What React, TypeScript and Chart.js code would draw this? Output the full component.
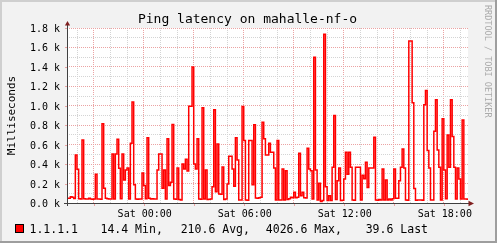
import { useEffect, useRef } from 'react';
import { Chart, registerables } from 'chart.js';

Chart.register(...registerables);

const TITLE = 'Ping latency on mahalle-nf-o';
const Y_TITLE = 'Milliseconds';
const WATERMARK = 'RRDTOOL / TOBI OETIKER';
const SERIES_LABEL = '1.1.1.1';

// time axis in hours relative to Sat 00:00
const START_HOUR = -4.6;
const STEP_HOURS = 0.1;
const END_HOUR = 19.45;

// ping latency samples (ms), one per step
const latency = [
  50, 48, 65, 58, 46, 495, 347, 45, 42, 649,
  45, 42, 40, 48, 42, 38, 42, 295, 40, 42,
  38, 814, 151, 48, 45, 42, 40, 505, 42, 505,
  656, 357, 45, 505, 237, 340, 360, 40, 615, 1040,
  189, 40, 38, 40, 42, 309, 179, 45, 670, 48,
  42, 45, 40, 42, 340, 505, 505, 151, 340, 40,
  660, 179, 213, 807, 40, 38, 360, 35, 32, 400,
  350, 450, 330, 996, 996, 1398, 402, 350, 660, 40,
  38, 979, 40, 340, 35, 38, 40, 168, 958, 117,
  608, 93, 90, 370, 35, 40, 196, 481, 481, 350,
  172, 670, 443, 30, 30, 993, 643, 30, 28, 643,
  643, 189, 804, 52, 50, 55, 58, 831, 660, 495,
  495, 615, 522, 522, 360, 30, 643, 30, 32, 350,
  30, 333, 35, 45, 58, 55, 110, 55, 58, 512,
  75, 110, 55, 52, 563, 350, 333, 40, 1500, 340,
  30, 203, 14.4, 25, 1735, 168, 25, 75, 25, 367,
  900, 35, 230, 360, 25, 28, 247, 522, 295, 522,
  367, 30, 28, 367, 367, 367, 30, 285, 250, 419,
  160, 360, 360, 360, 677, 30, 28, 35, 30, 350,
  30, 237, 32, 40, 30, 45, 350, 50, 48, 230,
  367, 556, 360, 30, 28, 1666, 1666, 1030, 150, 28,
  30, 32, 30, 28, 1010, 1158, 539, 360, 30, 30,
  739, 1061, 546, 367, 30, 866, 340, 45, 700, 367,
  1061, 683, 367, 40, 360, 247, 40, 855, 40, 42,
  39.6,
];

const Y_MIN = 0;
const Y_MAX = 1800;
const yGridValues = [0, 100, 200, 300, 400, 500, 600, 700, 800, 900, 1000, 1100, 1200, 1300, 1400, 1500, 1600, 1700, 1800];
const yLabelValues = [0, 200, 400, 600, 800, 1000, 1200, 1400, 1600, 1800];
const yLabels = ['0.0 k', '0.2 k', '0.4 k', '0.6 k', '0.8 k', '1.0 k', '1.2 k', '1.4 k', '1.6 k', '1.8 k'];

const xGridHours = [-4, -3, -2, -1, 0, 1, 2, 3, 4, 5, 6, 7, 8, 9, 10, 11, 12, 13, 14, 15, 16, 17, 18, 19];
const xMajorHours = [-3, 0, 3, 6, 9, 12, 15, 18];
const xLabelHours = [0, 6, 12, 18];
const xLabels = ['Sat 00:00', 'Sat 06:00', 'Sat 12:00', 'Sat 18:00'];

const statNames = ['Min,', 'Avg,', 'Max,', 'Last'];
const statValues = ['14.4', '210.6', '4026.6', '39.6'];

const FONT = '"DejaVu Sans Mono", monospace';
const MINOR_GRID = '#D4D4D4';
const MAJOR_GRID = '#EBA3A3';

const rrdPlugin = {
  id: 'rrdLook',
  beforeDraw(chart: any) {
    const { ctx, width, height, chartArea: a } = chart;
    ctx.save();
    ctx.fillStyle = '#F2F2F2';
    ctx.fillRect(0, 0, width, height);
    ctx.fillStyle = '#CFCFCF';
    ctx.fillRect(0, 0, width, 2);
    ctx.fillRect(0, 0, 2, height);
    ctx.fillStyle = '#9E9E9E';
    ctx.fillRect(0, height - 2, width, 2);
    ctx.fillRect(width - 2, 0, 2, height);
    ctx.fillStyle = '#FFFFFF';
    ctx.fillRect(a.left, a.top, a.right - a.left, a.bottom - a.top);
    ctx.restore();
  },
  afterDatasetsDraw(chart: any) {
    const { ctx, chartArea: a } = chart;
    const xs = chart.scales.x;
    const ys = chart.scales.y;
    ctx.save();
    // small major ticks outside the axes
    ctx.strokeStyle = MAJOR_GRID;
    ctx.lineWidth = 1;
    ctx.beginPath();
    yLabelValues.forEach((v) => {
      const y = Math.round(ys.getPixelForValue(v)) + 0.5;
      ctx.moveTo(a.left - 2, y);
      ctx.lineTo(a.left, y);
    });
    xMajorHours.forEach((h) => {
      const x = Math.round(xs.getPixelForValue(h)) + 0.5;
      ctx.moveTo(x, a.bottom + 1);
      ctx.lineTo(x, a.bottom + 3);
    });
    ctx.stroke();

    // axes
    ctx.strokeStyle = '#404040';
    ctx.beginPath();
    const ax = Math.round(a.left) + 0.5;
    const ay = Math.round(a.bottom) + 0.5;
    ctx.moveTo(ax, a.bottom + 3);
    ctx.lineTo(ax, a.top - 4);
    ctx.moveTo(a.left - 3, ay);
    ctx.lineTo(a.right + 2, ay);
    ctx.stroke();

    // arrows
    ctx.fillStyle = '#801F1F';
    ctx.beginPath();
    ctx.moveTo(ax, a.top - 7);
    ctx.lineTo(ax - 2.6, a.top - 2.5);
    ctx.lineTo(ax + 2.6, a.top - 2.5);
    ctx.closePath();
    ctx.fill();
    ctx.beginPath();
    ctx.moveTo(a.right + 6, ay);
    ctx.lineTo(a.right + 0.5, ay - 2.8);
    ctx.lineTo(a.right + 0.5, ay + 2.8);
    ctx.closePath();
    ctx.fill();
    ctx.restore();
  },
  afterDraw(chart: any) {
    const { ctx, chartArea: a } = chart;
    const xs = chart.scales.x;
    const ys = chart.scales.y;
    ctx.save();
    ctx.fillStyle = '#000000';

    // title
    ctx.font = `13px ${FONT}`;
    ctx.textAlign = 'center';
    ctx.textBaseline = 'alphabetic';
    ctx.fillText(TITLE, 247.5, 22.5);

    // y tick labels
    ctx.font = `10px ${FONT}`;
    ctx.textAlign = 'right';
    yLabelValues.forEach((v, i) => {
      const y = ys.getPixelForValue(v);
      ctx.fillText(yLabels[i], 60, y + 4);
    });

    // x tick labels
    ctx.textAlign = 'center';
    xLabelHours.forEach((h, i) => {
      const x = xs.getPixelForValue(h);
      ctx.fillText(xLabels[i], x + 1, 216.5);
    });

    // y axis title
    ctx.save();
    ctx.font = `11px ${FONT}`;
    ctx.translate(14.5, (a.top + a.bottom) / 2);
    ctx.rotate(-Math.PI / 2);
    ctx.textAlign = 'center';
    ctx.fillText(Y_TITLE, 0, 0);
    ctx.restore();

    // watermark
    ctx.save();
    ctx.font = `8.5px ${FONT}`;
    ctx.fillStyle = '#ABABAB';
    ctx.translate(485, 5);
    ctx.rotate(Math.PI / 2);
    ctx.textAlign = 'left';
    ctx.fillText(WATERMARK, 0, 0);
    ctx.restore();

    // legend
    ctx.fillStyle = '#FF0000';
    ctx.fillRect(15, 224, 9, 9);
    ctx.strokeStyle = '#000000';
    ctx.lineWidth = 1;
    ctx.strokeRect(15.5, 224.5, 8, 8);
    ctx.fillStyle = '#000000';
    ctx.font = `11.5px ${FONT}`;
    ctx.textAlign = 'left';
    const legendX = [29.5, 100.5, 180.7, 265.8, 365.7];
    ctx.fillText(SERIES_LABEL, legendX[0], 232.5);
    statValues.forEach((v, i) => {
      ctx.fillText(`${v} ${statNames[i]}`, legendX[i + 1], 232.5);
    });
    ctx.restore();
  },
};

export default function App() {
  const ref = useRef<HTMLCanvasElement>(null);
  useEffect(() => {
    document.body.style.margin = '0';
    const canvas = ref.current as HTMLCanvasElement;
    const points = latency.map((v, i) => ({ x: START_HOUR + i * STEP_HOURS, y: v }));
    points.push({ x: END_HOUR + STEP_HOURS, y: latency[latency.length - 1] });
    const chart = new Chart(canvas, {
      type: 'line',
      data: {
        datasets: [
          {
            label: SERIES_LABEL,
            data: points,
            stepped: 'before',
            borderColor: '#FF0000',
            borderWidth: 1.5,
            pointRadius: 0,
            fill: false,
            tension: 0,
          },
        ],
      },
      options: {
        animation: false,
        responsive: false,
        devicePixelRatio: 1,
        events: [],
        layout: { padding: { left: 67, right: 29, top: 28, bottom: 40 } },
        plugins: {
          legend: { display: false },
          title: { display: false },
          tooltip: { enabled: false },
        },
        scales: {
          x: {
            type: 'linear',
            min: START_HOUR,
            max: END_HOUR,
            afterBuildTicks: (s: any) => {
              s.ticks = xGridHours.map((v) => ({ value: v }));
            },
            afterFit: (s: any) => {
              s.height = 0;
            },
            ticks: { display: false },
            grid: {
              drawTicks: false,
              lineWidth: 1,
              color: (c: any) => (c.tick && xMajorHours.includes(c.tick.value) ? MAJOR_GRID : MINOR_GRID),
            },
            border: { display: false, dash: [1, 1] },
          },
          y: {
            type: 'linear',
            min: Y_MIN,
            max: Y_MAX,
            afterBuildTicks: (s: any) => {
              s.ticks = yGridValues.map((v) => ({ value: v }));
            },
            afterFit: (s: any) => {
              s.width = 0;
            },
            ticks: { display: false },
            grid: {
              drawTicks: false,
              lineWidth: 1,
              color: (c: any) => (c.tick && c.tick.value % 200 === 0 ? MAJOR_GRID : MINOR_GRID),
            },
            border: { display: false, dash: [1, 1] },
          },
        },
      } as any,
      plugins: [rrdPlugin],
    });
    return () => chart.destroy();
  }, []);
  return <canvas ref={ref} width={497} height={243} style={{ display: 'block' }} />;
}
